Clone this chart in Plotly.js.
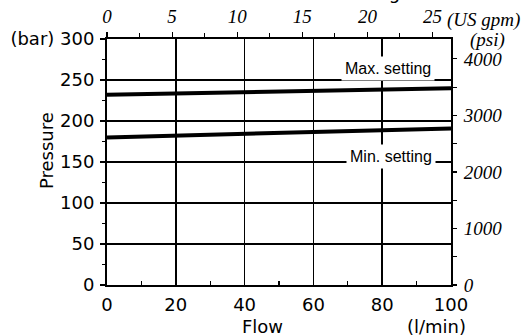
<!DOCTYPE html>
<html>
<head>
<meta charset="utf-8">
<script src="https://cdn.plot.ly/plotly-3.0.1.min.js"></script>
<style>html,body{margin:0;padding:0;background:#fff;}#chart{width:528px;height:336px;}</style>
</head>
<body>
<div id="chart"></div>
<script>
// Data (flow in l/min, pressure in bar)
const flow = [0, 100];
const maxSetting = [232, 240];
const minSetting = [180, 191];

const flowTicks = [0, 20, 40, 60, 80, 100];
const flowTickText = ['0', '20', '40', '60', '80', '100'];
const barTicks = [0, 50, 100, 150, 200, 250, 300];
const barTickText = ['0', '50', '100', '150', '200', '250', '(bar) 300'];
const gpmTicks = [0, 5, 10, 15, 20, 25];
const gpmTickText = ['0', '5', '10', '15', '20', '25'];
const psiTicks = [0, 1000, 2000, 3000, 4000];
const psiTickText = ['0', '1000', '2000', '3000', '4000'];

const LPM_PER_GPM = 3.78541;
const PSI_PER_BAR = 14.5038;

const sans = {family: 'DejaVu Sans, Verdana, sans-serif', size: 18, color: '#000'};
const serifIt = {family: 'Liberation Serif, Times New Roman, serif', size: 19, color: '#000', style: 'italic'};

const traces = [
  {x: flow, y: maxSetting, mode: 'lines', line: {color: '#000', width: 4}, xaxis: 'x', yaxis: 'y', showlegend: false, hoverinfo: 'skip'},
  {x: flow, y: minSetting, mode: 'lines', line: {color: '#000', width: 4}, xaxis: 'x', yaxis: 'y', showlegend: false, hoverinfo: 'skip'},
  {x: [0], y: [0], mode: 'markers', marker: {opacity: 0}, xaxis: 'x2', yaxis: 'y2', showlegend: false, hoverinfo: 'skip'}
];

const layout = {
  width: 528, height: 336,
  margin: {l: 107, r: 77, t: 39, b: 51, pad: 0},
  paper_bgcolor: '#fff', plot_bgcolor: '#fff',
  showlegend: false,
  xaxis: {
    range: [0, 100], tickvals: flowTicks, ticktext: flowTickText,
    showgrid: true, gridcolor: '#000', gridwidth: 1.6, zeroline: false,
    showline: true, linecolor: '#000', linewidth: 2,
    ticks: 'inside', ticklen: 5, tickwidth: 1.5, tickcolor: '#000',
    minor: {dtick: 10, tick0: 0, ticks: 'inside', ticklen: 4, tickwidth: 1.2, tickcolor: '#000', showgrid: false},
    tickfont: sans, ticklabelstandoff: 2
  },
  xaxis2: {
    overlaying: 'x', side: 'top', anchor: 'y',
    range: [0, 100 / LPM_PER_GPM], tickvals: gpmTicks, ticktext: gpmTickText,
    showgrid: false, zeroline: false,
    showline: true, linecolor: '#000', linewidth: 2,
    ticks: 'outside', ticklen: 5, tickwidth: 1.2, tickcolor: '#000',
    minor: {dtick: 2.5, tick0: 0, ticks: 'outside', ticklen: 4, tickwidth: 1, tickcolor: '#000', showgrid: false},
    tickfont: serifIt, ticklabelstandoff: 1
  },
  yaxis: {
    range: [0, 300], tickvals: barTicks, ticktext: barTickText,
    showgrid: true, gridcolor: '#000', gridwidth: 1.6, zeroline: false,
    showline: true, linecolor: '#000', linewidth: 2,
    ticks: 'outside', ticklen: 5, tickwidth: 1.5, tickcolor: '#000',
    minor: {dtick: 25, tick0: 0, ticks: 'outside', ticklen: 3, tickwidth: 1, tickcolor: '#000', showgrid: false},
    tickfont: sans, ticklabelstandoff: 2
  },
  yaxis2: {
    overlaying: 'y', side: 'right', anchor: 'x',
    range: [0, 300 * PSI_PER_BAR], tickvals: psiTicks, ticktext: psiTickText,
    showgrid: false, zeroline: false,
    showline: true, linecolor: '#000', linewidth: 2,
    ticks: 'outside', ticklen: 4, tickwidth: 1.2, tickcolor: '#000',
    minor: {dtick: 500, tick0: 0, ticks: 'outside', ticklen: 4, tickwidth: 1, tickcolor: '#000', showgrid: false},
    tickfont: serifIt, ticklabelstandoff: 3
  },
  annotations: [
    {text: 'Max. setting', xref: 'x', yref: 'y', x: 81.7, y: 264.5, showarrow: false,
     font: {family: 'Liberation Sans, Arial, sans-serif', size: 16, color: '#000'},
     bgcolor: '#fff', borderpad: 3, xanchor: 'center', yanchor: 'middle'},
    {text: 'Min. setting', xref: 'x', yref: 'y', x: 82.6, y: 157, showarrow: false,
     font: {family: 'Liberation Sans, Arial, sans-serif', size: 16, color: '#000'},
     bgcolor: '#fff', borderpad: 3, xanchor: 'center', yanchor: 'middle'},
    {text: 'Pressure', xref: 'paper', yref: 'paper', x: -0.174, y: 0.545, textangle: -90,
     showarrow: false, font: sans, xanchor: 'center', yanchor: 'middle'},
    {text: 'Flow', xref: 'paper', yref: 'paper', x: 0.451, y: -0.168, showarrow: false,
     font: sans, xanchor: 'center', yanchor: 'middle'},
    {text: '(l/min)', xref: 'paper', yref: 'paper', x: 0.958, y: -0.168, showarrow: false,
     font: sans, xanchor: 'center', yanchor: 'middle'},
    {text: '(US gpm)', xref: 'paper', yref: 'paper', x: 1.095, y: 1.077, showarrow: false,
     font: serifIt, xanchor: 'center', yanchor: 'middle', borderpad: 0},
    {text: '(psi)', xref: 'paper', yref: 'paper', x: 1.105, y: 0.995, showarrow: false,
     font: serifIt, xanchor: 'center', yanchor: 'middle', borderpad: 0},
    {text: 'Pressure vs. Flow at Setting', xref: 'paper', yref: 'paper', x: 0.855, y: 1.142,
     showarrow: false, font: sans, xanchor: 'right', yanchor: 'bottom', borderpad: 0}
  ]
};

Plotly.newPlot('chart', traces, layout, {staticPlot: true, displayModeBar: false});
</script>
</body>
</html>
